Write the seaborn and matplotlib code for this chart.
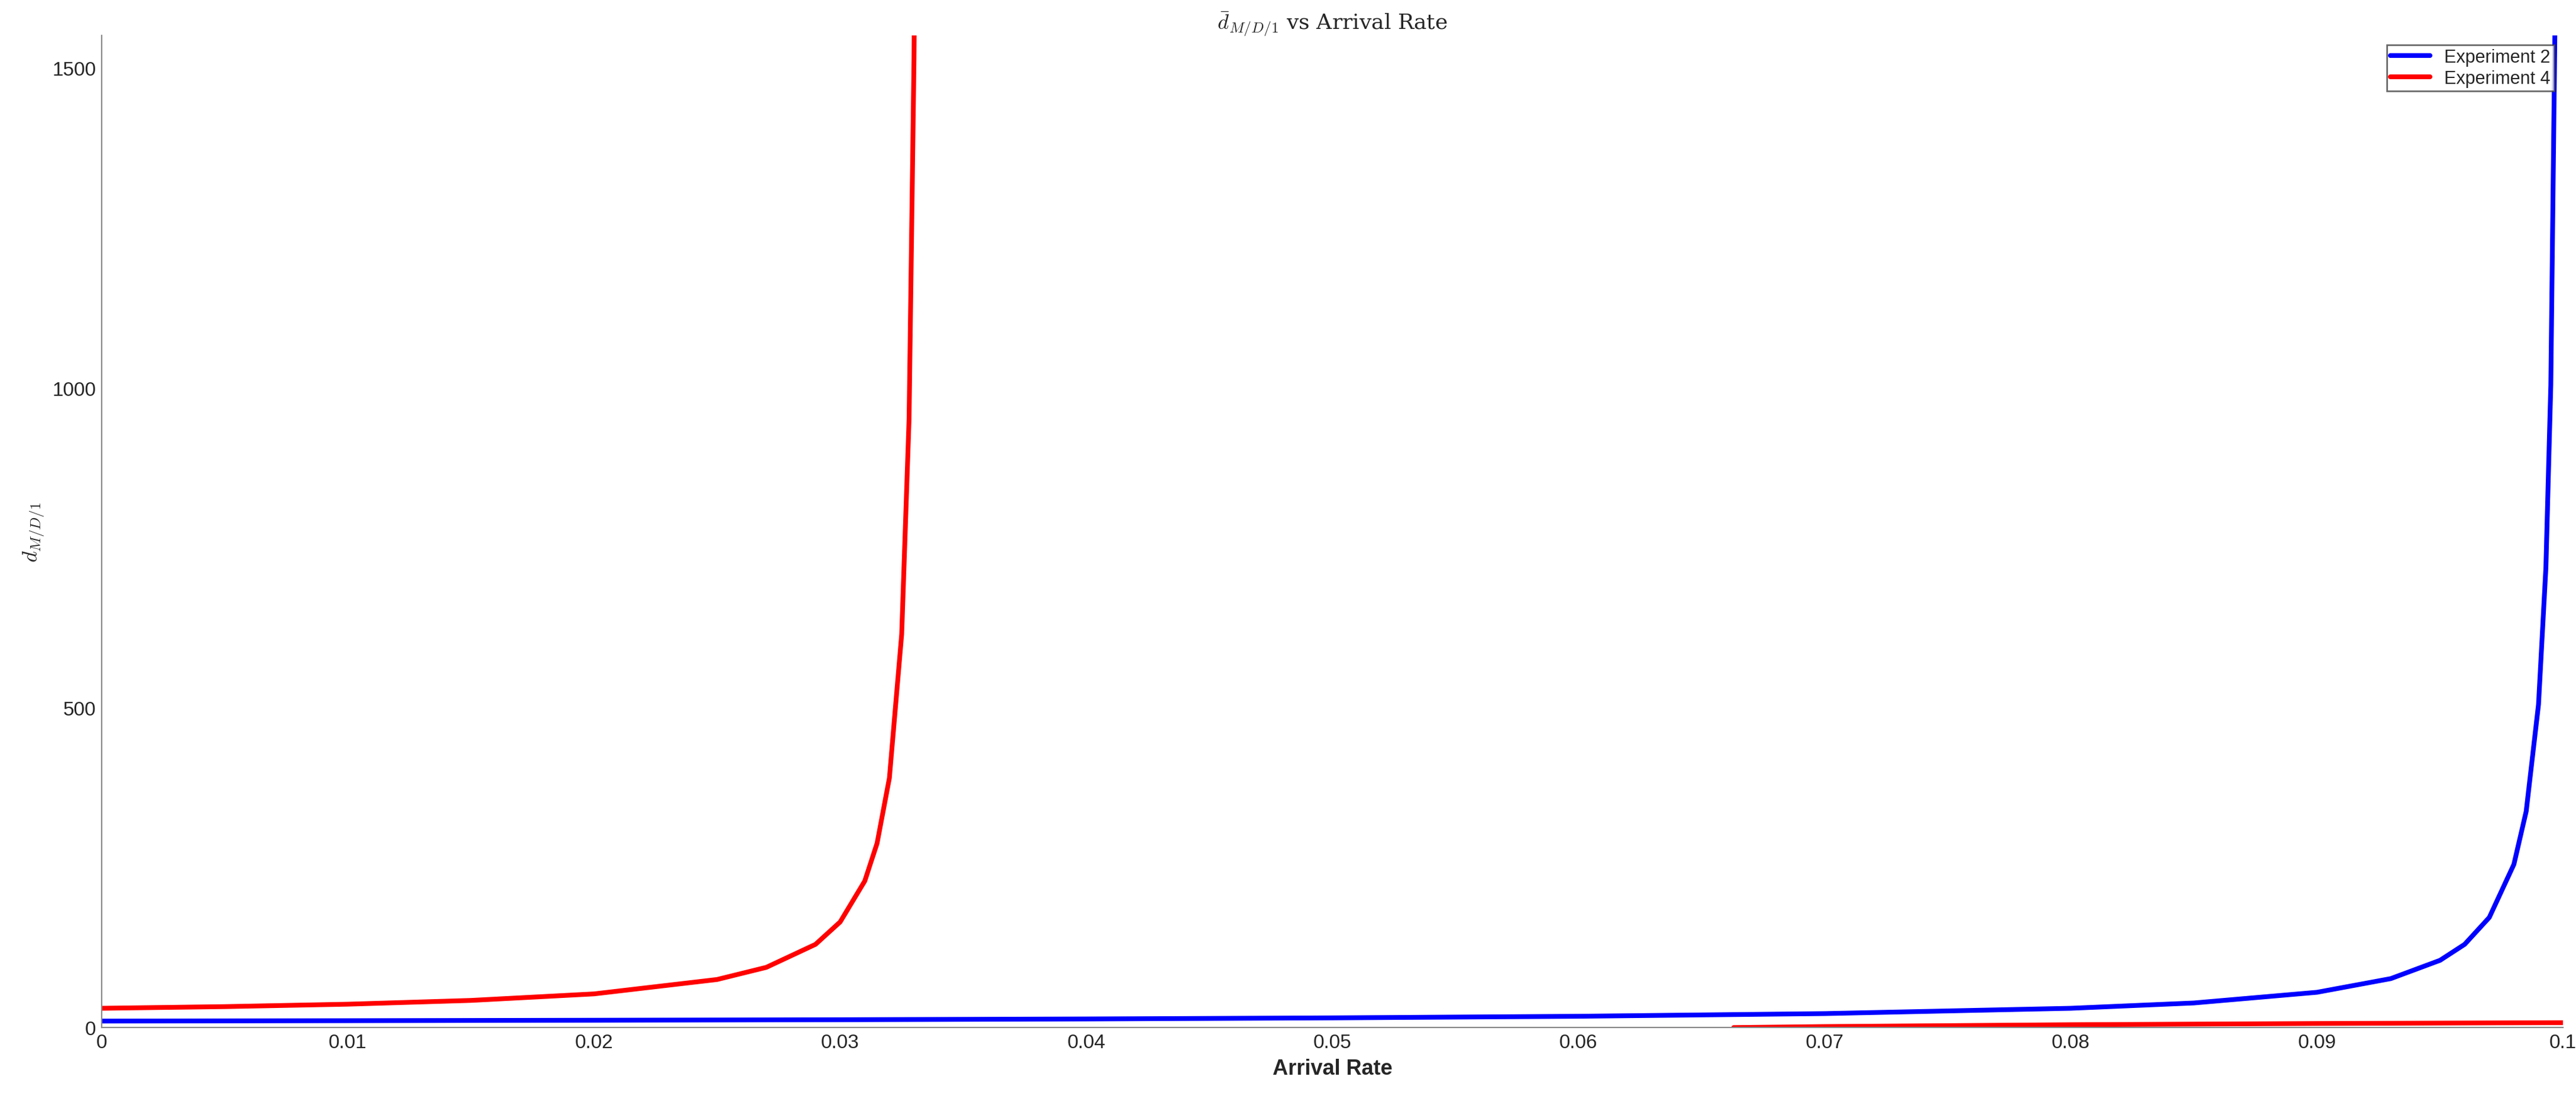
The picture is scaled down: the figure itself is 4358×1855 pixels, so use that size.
import numpy as np
import pandas as pd
import matplotlib
matplotlib.use('Agg')
import matplotlib.pyplot as plt
import seaborn as sns

# values
exp2_x = [0, 0.01, 0.02, 0.03, 0.04, 0.05, 0.06, 0.07, 0.08, 0.085, 0.09, 0.093, 0.095,
          0.096, 0.097, 0.098, 0.0985, 0.099, 0.0993, 0.0995, 0.0997]
exp2_y = [10, 10.6, 11.3, 12.1, 13.3, 15, 17.5, 21.7, 30, 38.3, 55, 76.4, 105,
          130, 172, 255, 338, 505, 719, 1005, 1672]

exp4a_x = [0, 0.005, 0.01, 0.015, 0.02, 0.025, 0.027, 0.029, 0.030, 0.031, 0.0315,
           0.032, 0.0325, 0.0328, 0.033, 0.03305]
exp4a_y = [30, 32.6, 36.4, 42.3, 52.5, 75, 94, 130, 165, 229, 288,
           390, 615, 952, 1515, 1780]
exp4b_x = [0.0663, 0.07, 0.08, 0.09, 0.1]
exp4b_y = [-0.2, 1.4, 4.3, 6.2, 7.5]

sns.set_style('white')
plt.rcParams['font.family'] = ['Liberation Sans', 'DejaVu Sans']
plt.rcParams['mathtext.fontset'] = 'cm'

fig = plt.figure(figsize=(21.79, 9.28), dpi=200)
ax = fig.add_axes([0.0395, 0.0625, 0.9555, 0.9045])

df2 = pd.DataFrame({'x': exp2_x, 'y': exp2_y})
df4a = pd.DataFrame({'x': exp4a_x, 'y': exp4a_y})
df4b = pd.DataFrame({'x': exp4b_x, 'y': exp4b_y})
sns.lineplot(data=df2, x='x', y='y', ax=ax, color='#0000ff', lw=2.9, label='Experiment 2')
sns.lineplot(data=df4a, x='x', y='y', ax=ax, color='#ff0000', lw=2.9, label='Experiment 4')
sns.lineplot(data=df4b, x='x', y='y', ax=ax, color='#ff0000', lw=2.9)

ax.set_xlim(0, 0.1)
ax.set_ylim(0, 1551)
ax.set_xticks(np.arange(0, 0.101, 0.01))
ax.set_xticklabels(['0'] + [f'{v:.2f}' for v in np.arange(0.01, 0.0951, 0.01)] + ['0.1'])
ax.set_yticks([0, 500, 1000, 1500])
ax.tick_params(direction='in', labelsize=12, length=6, color='#999999')
for s in ['top', 'right']:
    ax.spines[s].set_visible(False)
for s in ['left', 'bottom']:
    ax.spines[s].set_color('#888888')

ax.set_xlabel('Arrival Rate', fontsize=13, fontweight='bold')
ax.set_ylabel(r'$d_{M/D/1}$', fontsize=13)
ax.set_title(r'$\bar{d}_{M/D/1}$ vs Arrival Rate', fontsize=13, fontfamily='serif', pad=4)
ax.legend(loc='upper right', fontsize=11, frameon=True, fancybox=False,
          edgecolor='#444444', handlelength=2.2, borderpad=0.2, labelspacing=0.2)

fig.savefig('out.png', dpi=200)
